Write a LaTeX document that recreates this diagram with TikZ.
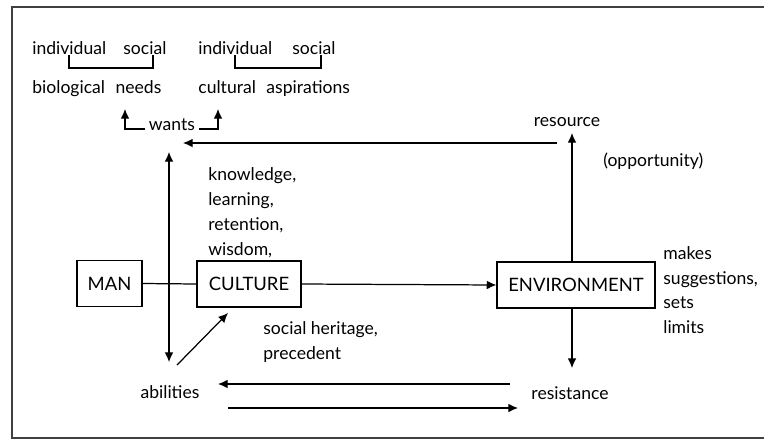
\documentclass[tikz,border=0pt]{standalone}
\usepackage{fontspec}
\setmainfont{Lato}
\usetikzlibrary{arrows.meta}

\tikzset{
  txt/.style={inner sep=0pt,font=\fontsize{10}{14.2}\selectfont},
  lst/.style={txt,anchor=west,align=left},
  blk/.style={draw,line width=0.7pt,inner sep=0pt,minimum height=0.92cm,font=\fontsize{10.5}{12}\selectfont},
  arr/.style={line width=0.7pt,-{Latex[length=5.5pt,width=5pt]}},
  dblarr/.style={line width=0.7pt,{Latex[length=5.5pt,width=5pt]}-{Latex[length=5.5pt,width=5pt]}},
  ln/.style={line width=0.7pt}
}

\begin{document}
\begin{tikzpicture}[x=0.02cm,y=-0.02cm]
    \useasboundingbox (0,0) rectangle (764,440);
    \draw[line width=1pt,black!75] (764,7) -- (12,7) -- (12,438) -- (764,438);

    % needs and aspirations
    \node[txt,anchor=west] (ind1) at (32,48) {individual};
    \node[txt,anchor=west] (soc1) at (123,48) {social};
    \node[txt,anchor=west] (ind2) at (198,48) {individual};
    \node[txt,anchor=west] (soc2) at (292,48) {social};
    \draw[ln] (69,55) -- (69,68) -- (153,68) -- (153,55);
    \draw[ln] (235,55) -- (235,68) -- (321,68) -- (321,55);
    \node[txt,anchor=west] (bio) at (32,89) {biological\hspace{0.6em}needs};
    \node[txt,anchor=west] (cult) at (198,89) {cultural\hspace{0.6em}aspirations};

    \node[txt] (wants) at (172,125) {wants};
    \draw[arr] ([xshift=-2pt]wants.west |- 0,129) -- (125,129) -- (125,109);
    \draw[arr] ([xshift=2pt]wants.east |- 0,129) -- (218,129) -- (218,109);

    % main row
    \node[blk,minimum width=1.3cm] (man) at (109.5,283.5) {MAN};
    \node[blk,minimum width=2.08cm] (culture) at (249,284) {CULTURE};
    \node[blk,minimum width=3.16cm] (env) at (576,285) {ENVIRONMENT};

    \node[txt] (res) at (567,122) {resource};
    \node[txt,anchor=west] (opp) at (603,161) {(opportunity)};
    \node[lst] (know) at (208,212.5) {knowledge,\\learning,\\retention,\\wisdom,};
    \node[lst,font=\fontsize{10}{14}\selectfont] (mak) at (663,290) {makes\\suggestions,\\sets\\limits};
    \node[lst,font=\fontsize{10}{14.2}\selectfont] (her) at (263,342.5) {social heritage,\\precedent};

    \node[txt] (abil) at (170,392) {abilities};
    \node[txt] (resi) at (570,393) {resistance};

    \coordinate (rescorner) at (557,143);
    \coordinate (wantsin) at (183,143);
    \coordinate (uptop) at (169,152);
    \coordinate (downbot) at (169,362);
    \coordinate (diagfrom) at (177,365);
    \coordinate (diagto) at (228,313);

    \draw[ln] (man.east) -- (culture.west);
    \draw[arr] (culture.east) -- (env.west);
    \draw[arr] (572,0 |- env.north) -- (572,133);
    \draw[arr] (rescorner) -- (wantsin);
    \draw[dblarr] (uptop) -- (downbot);
    \draw[arr] (diagfrom) -- (diagto);
    \draw[arr] (572,0 |- env.south) -- (572,368);
    \draw[arr] (510,384) -- (218,384);
    \draw[arr] (228,408) -- (518,408);

\end{tikzpicture}
\end{document}
